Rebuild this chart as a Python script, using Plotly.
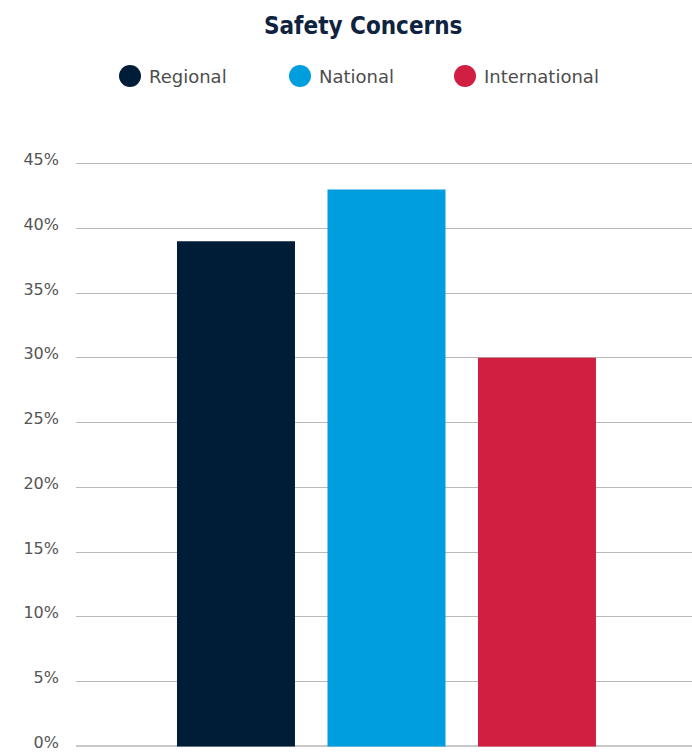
import plotly.graph_objects as go

# Survey results: share of respondents citing safety concerns
series = ["Regional", "National", "International"]
values = [39, 43, 30]
colors = ["#001d38", "#009ddf", "#d11f42"]
tick_vals = [0, 5, 10, 15, 20, 25, 30, 35, 40, 45]
tick_text = ["0%", "5%", "10%", "15%", "20%", "25%", "30%", "35%", "40%", "45%"]

W, H = 692, 752
ML, MR, MT, MB = 76, 0, 161, 3
PW, PH = W - ML - MR, H - MT - MB
Y_RANGE = [-0.2, 45.2]


def px_x(x):
    return (x - ML) / PW


def px_y(y):
    return (H - MB - y) / PH


fig = go.Figure()
fig.add_trace(go.Bar(
    x=series,
    y=values,
    marker=dict(color=colors, line=dict(width=0)),
    width=0.784,
    showlegend=False,
    hovertemplate="%{x}: %{y}%<extra></extra>",
))

shapes = []
annotations = [dict(
    text="<b>Safety Concerns</b>",
    xref="paper", yref="paper",
    x=px_x(363), y=px_y(26),
    xanchor="center", yanchor="middle",
    showarrow=False,
    font=dict(family="DejaVu Sans Condensed, Roboto Condensed, Roboto, sans-serif",
              size=24, color="#0f2340"),
)]

# Legend row: coloured dots followed by series names
legend_dot_x = [130, 300, 465]
legend_text_x = [147, 317, 482]
for name, col, cx, tx in zip(series, colors, legend_dot_x, legend_text_x):
    shapes.append(dict(
        type="circle", xref="paper", yref="paper",
        xsizemode="pixel", ysizemode="pixel",
        xanchor=px_x(cx), yanchor=px_y(76),
        x0=-11, x1=11, y0=-11, y1=11,
        fillcolor=col, line=dict(width=0), layer="above",
    ))
    annotations.append(dict(
        text=name, xref="paper", yref="paper",
        x=px_x(tx), y=px_y(76), xanchor="left", yanchor="middle",
        showarrow=False,
        font=dict(family="DejaVu Sans, sans-serif", size=18, color="#4d4d4d"),
    ))

fig.update_layout(
    width=W, height=H,
    margin=dict(l=ML, r=MR, t=MT, b=MB, pad=0, autoexpand=False),
    paper_bgcolor="white", plot_bgcolor="white",
    bargap=0.216,
    shapes=shapes,
    annotations=annotations,
    xaxis=dict(
        type="category",
        range=[-1.063, 3.030],
        showticklabels=False, showgrid=False, zeroline=False, showline=False,
        automargin=False,
        fixedrange=True,
    ),
    yaxis=dict(
        range=Y_RANGE,
        tickvals=tick_vals, ticktext=tick_text,
        showgrid=True, gridcolor="#b8b8b8", gridwidth=1,
        zeroline=True, zerolinecolor="#c8c8c8", zerolinewidth=2,
        showline=False, ticks="",
        ticklabelstandoff=16,
        ticklabelshift=-4,
        ticklabeloverflow="allow",
        automargin=False,
        tickfont=dict(family="DejaVu Sans, sans-serif", size=16, color="#555555"),
        fixedrange=True,
    ),
)

fig.write_html("out.html")
